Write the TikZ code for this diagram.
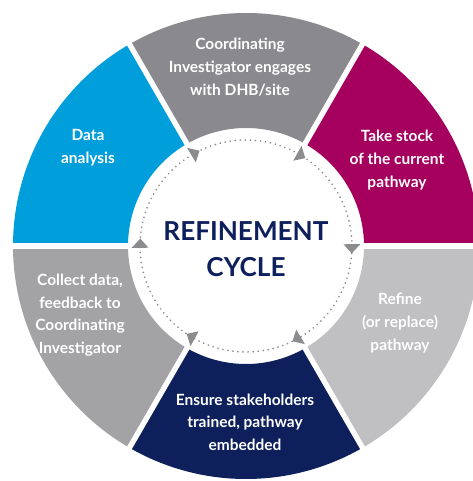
\documentclass[tikz,border=0pt]{standalone}
\usepackage{fontspec}
\setmainfont{Lato}
\usetikzlibrary{positioning}

\definecolor{coordgrey}{RGB}{138,137,141}
\definecolor{stockmag}{RGB}{165,0,94}
\definecolor{refinegrey}{RGB}{192,191,194}
\definecolor{ensurenavy}{RGB}{14,32,92}
\definecolor{collectgrey}{RGB}{163,162,165}
\definecolor{datablue}{RGB}{0,158,219}
\definecolor{arrowgrey}{RGB}{140,140,143}
\definecolor{dotgrey}{RGB}{140,140,140}

\begin{document}
\begin{tikzpicture}[x=0.75pt, y=0.75pt,
  seglabel/.style={text=white, align=center, font=\bfseries\fontsize{11.6}{17}\selectfont},
  gapline/.style={white, line width=4pt},
  dotring/.style={dotgrey, line width=1.4pt, line cap=round, dash pattern=on 0pt off 3.8pt},
  cyclearrow/.style={fill=arrowgrey}]
  \useasboundingbox (-246,-235) rectangle (227,246);
  % ring of six steps
  \foreach \a/\c in {0/stockmag, 60/coordgrey, 120/datablue, 180/collectgrey, 240/ensurenavy, 300/refinegrey}
    \fill [\c] (\a:118) -- (\a:233) arc [start angle=\a, end angle=\a+60, radius=233]
      -- ({\a+60}:118) arc [start angle=\a+60, end angle=\a, radius=118] -- cycle;
  \foreach \a in {0,60,...,300}
    \draw [gapline] (\a:110) -- (\a:240);
  % dotted cycle with arrows
  \draw [dotring] (0,0) circle [radius=106];
  \foreach \a in {0,60,...,300}
    \fill [cyclearrow] ({\a+1}:97.5) -- ({\a+1}:114.5) -- ({\a-4}:106) -- cycle;
  % labels
  \node (coord) [seglabel] at (-6,179) {Coordinating\\Investigator engages\\with DHB/site};
  \node (stock) [seglabel] at (151,86) {Take stock\\of the current\\pathway};
  \node (refine) [seglabel] at (154,-77) {Refine\\(or replace)\\pathway};
  \node (ensure) [seglabel] at (-1,-176) {Ensure stakeholders\\trained, pathway\\embedded};
  \node (collect) [seglabel] at (-166,-69) {Collect data,\\feedback to\\Coordinating\\Investigator};
  \node (data) [seglabel] at (-158,98) {Data\\analysis};
  \node (cycle) [text=ensurenavy, align=center, font=\bfseries\fontsize{19.6}{27.5}\selectfont] at (0,-3) {REFINEMENT\\CYCLE};
\end{tikzpicture}
\end{document}
